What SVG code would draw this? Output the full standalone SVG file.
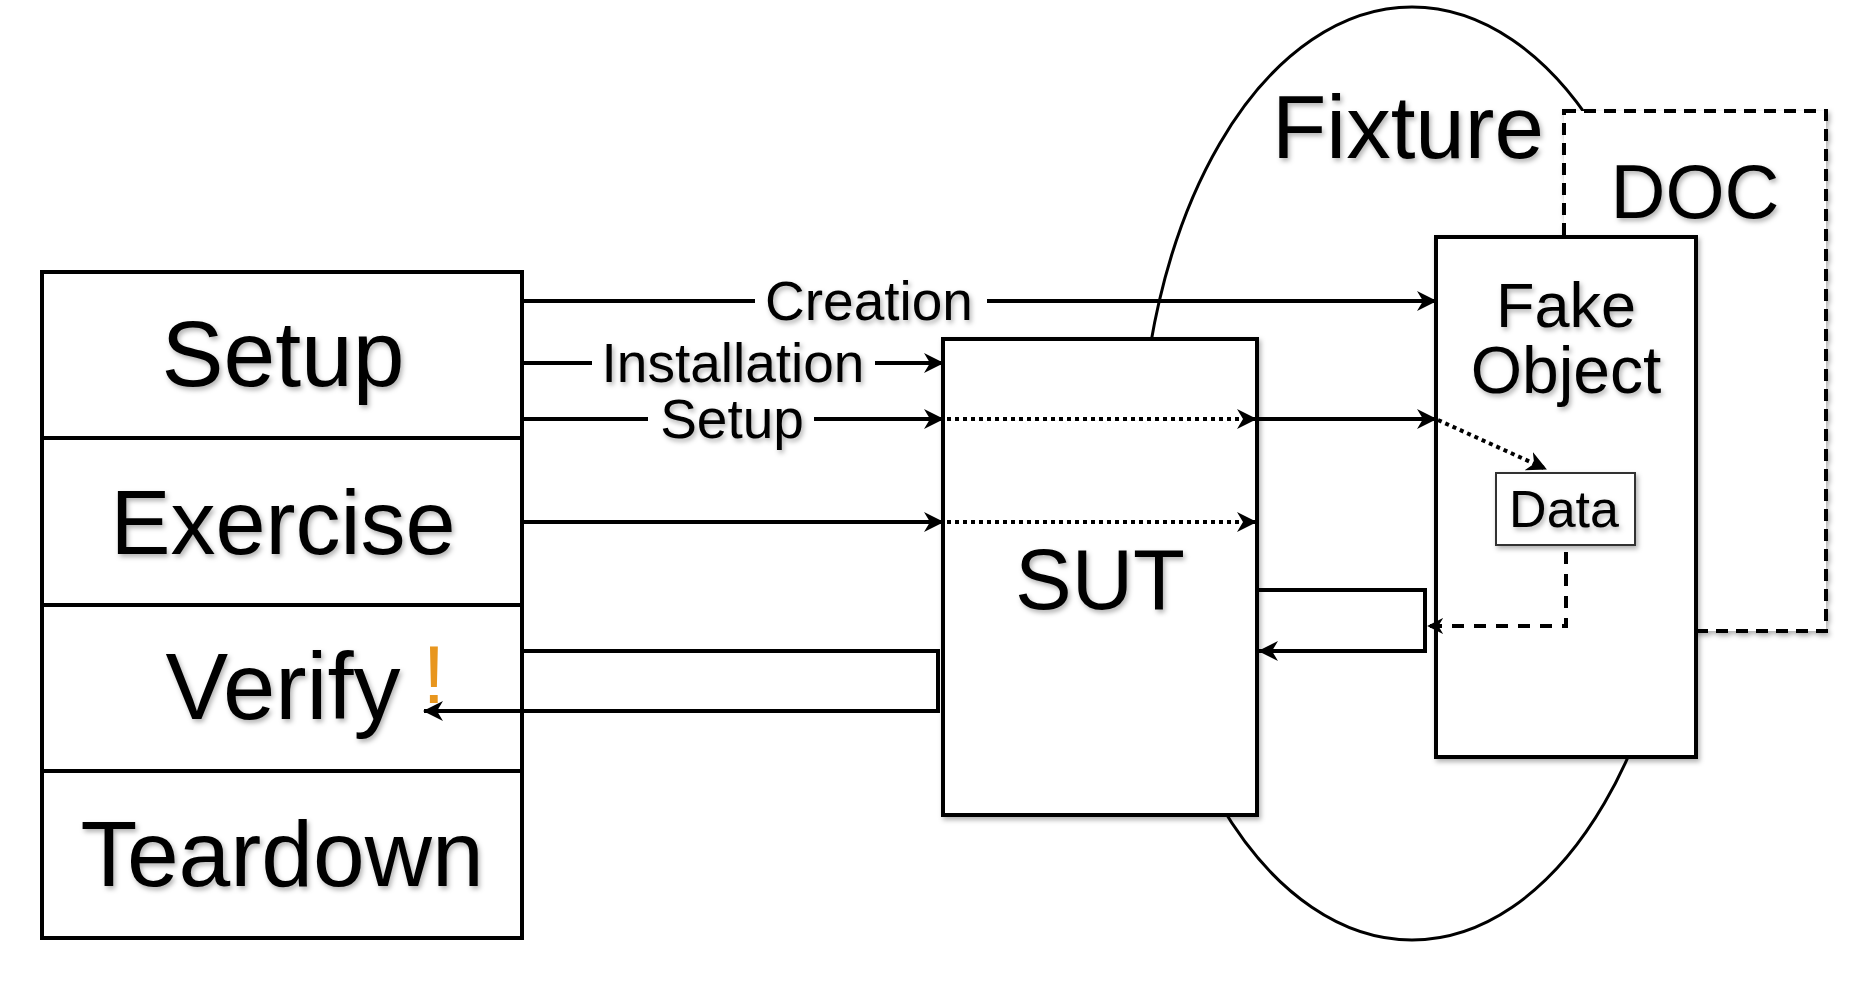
<svg xmlns="http://www.w3.org/2000/svg" width="1850" height="982" viewBox="0 0 1850 982">
<defs>
<style>
text{font-family:"Liberation Sans",Arial,sans-serif;fill:#000;text-anchor:middle}
.box{fill:#fff;stroke:#000;stroke-width:4}
.big{font-size:92px}
.lbl{font-size:55px}
.ln{fill:none;stroke:#000;stroke-width:4}
.dot{fill:none;stroke:#000;stroke-width:4;stroke-dasharray:4 4}
.sh{filter:url(#shadow)}
</style>
<filter id="shadow" x="-10%" y="-10%" width="130%" height="130%">
<feDropShadow dx="2" dy="3" stdDeviation="2.5" flood-color="#000" flood-opacity="0.3"/>
</filter>
<marker id="ah" viewBox="0 0 20 20" markerWidth="20" markerHeight="20" refX="19" refY="10" orient="auto" markerUnits="userSpaceOnUse">
<path d="M0,0 L20,10 L0,20 L6,10 z" fill="#000"/>
</marker>
<marker id="ahs" viewBox="0 0 20 20" markerWidth="16" markerHeight="16" refX="19" refY="10" orient="auto" markerUnits="userSpaceOnUse">
<path d="M0,0 L20,10 L0,20 L6,10 z" fill="#000"/>
</marker>
</defs>
<rect width="1850" height="982" fill="#fff"/>

<g id="fixture">
<ellipse cx="1412" cy="473.5" rx="272" ry="466.5" fill="none" stroke="#000" stroke-width="3"/>
<text x="1408" y="158" style="font-size:89px" class="sh">Fixture</text>
</g>

<g id="doc">
<rect x="1564" y="111" width="262" height="520" class="box sh" style="stroke-dasharray:12 8"/>
<text x="1695" y="218" style="font-size:76px" class="sh">DOC</text>
</g>

<g id="fake-object">
<rect x="1436" y="237" width="260" height="520" class="box sh"/>
<text x="1566" y="327" style="font-size:63px" class="sh">Fake</text>
<text x="1566" y="393" style="font-size:66px" class="sh">Object</text>
</g>

<g id="data">
<rect x="1496" y="473" width="139" height="72" fill="#fff" stroke="#333" stroke-width="2" class="sh"/>
<text x="1564" y="527" style="font-size:52px" class="sh">Data</text>
</g>

<g id="sut">
<rect x="943" y="339" width="314" height="476" class="box sh"/>
<text x="1100" y="609" style="font-size:85px" class="sh">SUT</text>
</g>

<g id="phase-setup">
<rect x="42" y="272" width="480" height="166" class="box"/>
<text x="283" y="386" class="big sh" style="font-size:93px">Setup</text>
</g>
<g id="phase-exercise">
<rect x="42" y="438" width="480" height="167" class="box"/>
<text x="283" y="554" class="big sh" style="font-size:90px">Exercise</text>
</g>
<g id="phase-verify">
<rect x="42" y="605" width="480" height="166" class="box"/>
<text x="283" y="719" class="big sh" style="font-size:94px">Verify</text>
<text x="434" y="703" style="font-size:82px;fill:#E8961E">!</text>
</g>
<g id="phase-teardown">
<rect x="42" y="771" width="480" height="167" class="box"/>
<text x="282" y="886" class="big sh" style="font-size:93px">Teardown</text>
</g>

<g id="connectors">
<path class="ln" d="M522,301 H755"/>
<path class="ln" d="M987,301 H1436" marker-end="url(#ah)"/>
<text x="869" y="320" class="lbl sh">Creation</text>

<path class="ln" d="M522,363 H592"/>
<path class="ln" d="M875,363 H943" marker-end="url(#ah)"/>
<text x="733" y="382" class="lbl sh">Installation</text>

<path class="ln" d="M522,419 H648"/>
<path class="ln" d="M814,419 H943" marker-end="url(#ah)"/>
<text x="732" y="438" class="lbl sh">Setup</text>
<path class="dot" d="M947,419 H1256" marker-end="url(#ah)"/>
<path class="ln" d="M1257,419 H1436" marker-end="url(#ah)"/>
<path class="dot" d="M1438,420 L1546,469" marker-end="url(#ah)"/>

<path class="ln" d="M522,522 H943" marker-end="url(#ah)"/>
<path class="dot" d="M947,522 H1256" marker-end="url(#ah)"/>

<path class="ln" d="M1566,552 V626 H1428" style="stroke-dasharray:12 10" marker-end="url(#ahs)"/>
<path class="ln" d="M1257,590 H1425 V651 H1259" marker-end="url(#ah)"/>
<path class="ln" d="M522,651 H938 V711 H424" marker-end="url(#ah)"/>
</g>
</svg>
